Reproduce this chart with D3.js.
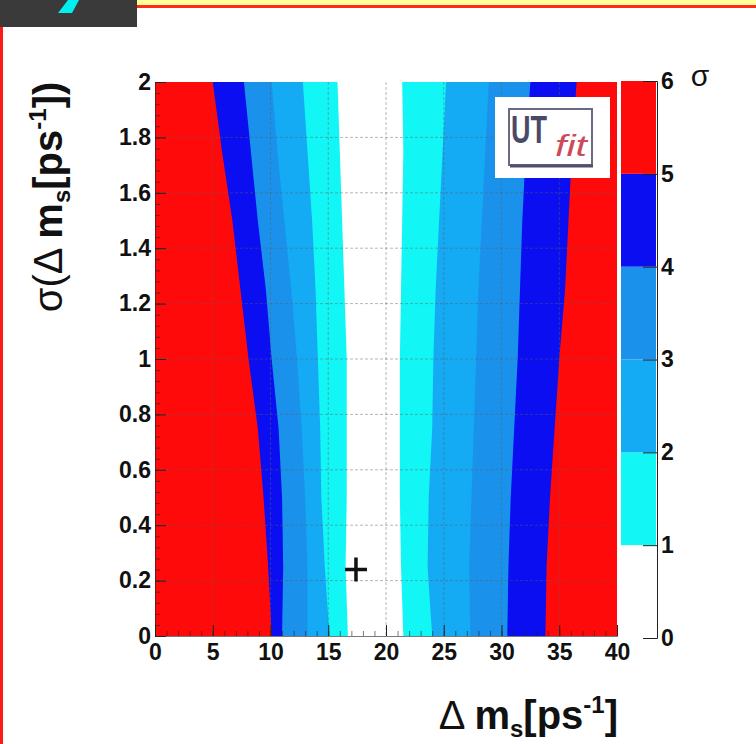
<!DOCTYPE html>
<html lang="en">
<head>
<meta charset="UTF-8">
<title>UTfit sigma(dm_s) scan</title>
<script src="https://cdn.jsdelivr.net/npm/d3@7.9.0/dist/d3.min.js"></script>
<style>
    body { margin: 0; background: #fff; }
    svg { display: block; font-family: "Liberation Sans", Arial, sans-serif; }
    .tick text { font-weight: bold; font-size: 23px; fill: #111; }
    .axis path, .axis line { stroke: #222; }
</style>
</head>
<body>
<svg id="chart" width="756" height="744"></svg>
<script>
const sigmaRows = [0, 0.25, 0.5, 0.75, 1.0, 1.25, 1.5, 1.75, 2.0];

// dm_s position of each contour edge, left side (5 sigma ... 1 sigma)
const left5 = [10.1, 9.8, 9.4, 8.9, 8.1, 7.4, 6.7, 5.8, 5.0];
const left4 = [11.0, 11.1, 11.0, 10.7, 10.1, 9.6, 8.9, 8.3, 7.7];
const left3 = [13.2, 13.2, 13.0, 12.7, 12.3, 11.8, 11.2, 10.6, 10.1];
const left2 = [15.1, 14.7, 14.4, 14.3, 14.1, 13.9, 13.6, 13.2, 12.8];
const left1 = [16.7, 16.5, 16.6, 16.6, 16.6, 16.4, 16.2, 16.0, 15.8];

// right side (1 sigma ... 5 sigma)
const right1 = [21.5, 21.3, 21.2, 21.2, 21.2, 21.3, 21.4, 21.5, 21.4];
const right2 = [24.0, 23.6, 23.7, 24.0, 24.1, 24.3, 24.6, 24.9, 25.2];
const right3 = [27.3, 27.2, 27.4, 27.6, 27.8, 28.0, 28.3, 28.6, 28.9];
const right4 = [30.5, 30.6, 30.8, 31.1, 31.4, 31.6, 31.8, 32.1, 32.5];
const right5 = [33.8, 33.9, 34.2, 34.6, 35.0, 35.5, 35.8, 36.1, 36.5];

// colour levels of the palette (0-1, 1-2, ... 5-6 sigma)
const levels = [0, 1, 2, 3, 4, 5, 6];
const levelColors = ['#ffffff', '#12f6f6', '#14aaf4', '#1a92ec', '#0a0ef0', '#ff0a0a'];

// best-fit marker
const marker = { dms: 17.4, sigma: 0.24 };

const xTicks = [0, 5, 10, 15, 20, 25, 30, 35, 40];
const yTicks = [0, 0.2, 0.4, 0.6, 0.8, 1, 1.2, 1.4, 1.6, 1.8, 2];

const svg = d3.select('#chart');

// slide decorations around the figure
svg.append('rect').attr('x', 137).attr('y', 0).attr('width', 619).attr('height', 5).attr('fill', '#ffff99');
svg.append('rect').attr('x', 137).attr('y', 5).attr('width', 619).attr('height', 3).attr('fill', '#ff2a1a');
svg.append('rect').attr('x', 0).attr('y', 0).attr('width', 137).attr('height', 27).attr('fill', '#3a3a3a');
svg.append('polygon').attr('points', '68,0 79,0 72,13 58,13').attr('fill', '#00f0f0');
svg.append('rect').attr('x', 0).attr('y', 27).attr('width', 3).attr('height', 717).attr('fill', '#ff1a1a');

const x = d3.scaleLinear().domain([0, 40]).range([155, 617]);
const y = d3.scaleLinear().domain([0, 2]).range([636, 82]);
const z = d3.scaleLinear().domain([0, 6]).range([638, 81]);

const plot = svg.append('g');

// outermost level fills the whole frame
plot.append('rect')
    .attr('x', x(0)).attr('y', y(2))
    .attr('width', x(40) - x(0)).attr('height', y(0) - y(2))
    .attr('fill', levelColors[5]);

// nested bands, each one drawn between its left and right edges
const bands = [
    { l: left5, r: right5, c: levelColors[4] },
    { l: left4, r: right4, c: levelColors[3] },
    { l: left3, r: right3, c: levelColors[2] },
    { l: left2, r: right2, c: levelColors[1] },
    { l: left1, r: right1, c: levelColors[0] }
];

bands.forEach(b => {
    let rows = sigmaRows.map((s, i) => ({ s: s, l: b.l[i], r: b.r[i] }));
    let area = d3.area()
        .y(d => y(d.s))
        .x0(d => x(d.l))
        .x1(d => x(d.r));
    plot.append('path').datum(rows).attr('d', area).attr('fill', b.c);
});

// faint grid
let grid = plot.append('g').attr('stroke', '#606060').attr('stroke-opacity', 0.45).attr('stroke-dasharray', '3,2');
grid.selectAll('.gx').data(xTicks.slice(1, -1)).enter().append('line')
    .attr('x1', d => x(d)).attr('x2', d => x(d)).attr('y1', y(2)).attr('y2', y(0));
grid.selectAll('.gy').data(yTicks.slice(1, -1)).enter().append('line')
    .attr('y1', d => y(d)).attr('y2', d => y(d)).attr('x1', x(0)).attr('x2', x(40));

// best fit cross
plot.append('path')
    .attr('d', `M${x(marker.dms) - 11},${y(marker.sigma)}H${x(marker.dms) + 11}M${x(marker.dms)},${y(marker.sigma) - 12}V${y(marker.sigma) + 12}`)
    .attr('stroke', '#111').attr('stroke-width', 3.5);

// axes: ticks point into the frame
svg.append('g').attr('class', 'axis').attr('transform', `translate(0,${y(0)})`)
    .call(d3.axisBottom(x).tickValues(d3.range(0, 41, 1)).tickSize(-5).tickFormat(''))
    .call(g => g.select('.domain').remove())
    .selectAll('line').attr('stroke-opacity', 0.6);
svg.append('g').attr('class', 'axis').attr('transform', `translate(0,${y(0)})`)
    .call(d3.axisBottom(x).tickValues(xTicks).tickSize(-11).tickPadding(8))
    .call(g => g.select('.domain').attr('stroke-opacity', 0.6));

svg.append('g').attr('class', 'axis').attr('transform', `translate(${x(0)},0)`)
    .call(d3.axisLeft(y).tickValues(d3.range(0, 2.001, 0.04)).tickSize(-5).tickFormat(''))
    .call(g => g.select('.domain').remove())
    .selectAll('line').attr('stroke-opacity', 0.6);
svg.append('g').attr('class', 'axis').attr('transform', `translate(${x(0)},0)`)
    .call(d3.axisLeft(y).tickValues(yTicks).tickSize(-11).tickPadding(4).tickFormat(d3.format('')))
    .call(g => g.select('.domain').attr('stroke-opacity', 0.6));

// colour bar
const bar = svg.append('g');
bar.selectAll('rect').data(levels.slice(0, -1)).enter().append('rect')
    .attr('x', 621).attr('width', 35)
    .attr('y', d => z(d + 1)).attr('height', d => z(d) - z(d + 1))
    .attr('fill', (d, i) => levelColors[i]);

svg.append('g').attr('class', 'axis').attr('transform', 'translate(657,0)')
    .call(d3.axisRight(z).tickValues(levels).tickSize(-14).tickPadding(4).tickFormat(d3.format('d')))
    .call(g => g.select('.domain').attr('stroke', '#aaa'))
    .call(g => g.selectAll('.tick line').attr('stroke', '#999'));

svg.append('text').attr('x', 700).attr('y', 86).attr('text-anchor', 'middle')
    .attr('font-size', 30).attr('fill', '#111').text('σ');

// UTfit logo
const logo = svg.append('g');
logo.append('rect').attr('x', 495).attr('y', 97).attr('width', 115).attr('height', 81).attr('fill', '#fff');
logo.append('rect').attr('x', 509).attr('y', 109).attr('width', 83).attr('height', 56)
    .attr('fill', '#fff').attr('stroke', '#6a6a82').attr('stroke-width', 2);
logo.append('line').attr('x1', 510).attr('x2', 593).attr('y1', 166).attr('y2', 166)
    .attr('stroke', '#50506e').attr('stroke-width', 3);
// tall, narrow "UT": small font stretched vertically
logo.append('text').attr('transform', 'translate(511,143) scale(1,1.45)')
    .attr('font-size', 27).attr('font-weight', 'bold')
    .attr('fill', '#4a4a68').text('UT');
logo.append('text').attr('x', 555).attr('y', 156).attr('font-size', 30).attr('font-style', 'italic')
    .attr('fill', '#cc4a5c').attr('textLength', 32).attr('lengthAdjust', 'spacingAndGlyphs').text('fit');

// axis titles
const xt = svg.append('text').attr('x', 618).attr('y', 729).attr('text-anchor', 'end')
    .attr('font-size', 40).attr('font-weight', 'bold').attr('fill', '#111');
xt.append('tspan').attr('font-weight', 'normal').text('Δ ');
xt.append('tspan').text('m');
xt.append('tspan').attr('font-size', 24).attr('dy', 8).text('s');
xt.append('tspan').attr('dy', -8).text('[ps');
xt.append('tspan').attr('font-size', 24).attr('dy', -16).text('-1');
xt.append('tspan').attr('dy', 16).text(']');

const yt = svg.append('text').attr('transform', 'translate(62,197) rotate(-90)').attr('text-anchor', 'middle')
    .attr('font-size', 40).attr('font-weight', 'bold').attr('fill', '#111');
yt.append('tspan').attr('font-weight', 'normal').text('σ(Δ ');
yt.append('tspan').text('m');
yt.append('tspan').attr('font-size', 24).attr('dy', 8).text('s');
yt.append('tspan').attr('dy', -8).text('[ps');
yt.append('tspan').attr('font-size', 24).attr('dy', -16).text('-1');
yt.append('tspan').attr('dy', 16).text('])');
</script>
</body>
</html>
